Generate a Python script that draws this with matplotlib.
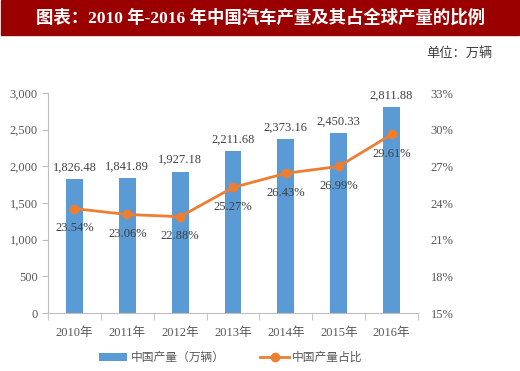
import matplotlib
matplotlib.use('Agg')
import matplotlib.pyplot as plt
import numpy as np
from matplotlib.patches import Rectangle

years = ['2010年', '2011年', '2012年', '2013年', '2014年', '2015年', '2016年']
output = [1826.48, 1841.89, 1927.18, 2211.68, 2373.16, 2450.33, 2811.88]
share = [23.54, 23.06, 22.88, 25.27, 26.43, 26.99, 29.61]

plt.rcParams['font.family'] = ['Liberation Serif', 'Noto Sans CJK SC']

fig = plt.figure(figsize=(5.2, 3.71), dpi=100)

# red title banner
fig.patches.append(Rectangle((0.002, 1 - 35 / 371), 0.996, 35 / 371,
                             transform=fig.transFigure, color='#9B0000', zorder=0))
fig.text(0.5, 1 - 18 / 371, '图表：2010 年-2016 年中国汽车产量及其占全球产量的比例',
         ha='center', va='center', color='white', fontsize=12.5, fontweight='bold')
fig.text(0.948, 1 - 53 / 371, '单位：万辆', ha='right', va='center',
         fontsize=9.5, color='#404040')

ax = fig.add_axes([48 / 520, 58 / 371, 370 / 520, 220 / 371])
x = np.arange(len(years))
bars = ax.bar(x, output, width=0.32, color='#5B9BD5', label='中国产量（万辆）', zorder=2)
ax.set_xlim(-0.5, 6.5)
ax.set_ylim(0, 3000)
ax.set_yticks(np.arange(0, 3001, 500))
ax.yaxis.set_major_formatter(lambda v, p: f'{v:,.0f}')
ax.set_xticks(x)
ax.set_xticklabels(years)
ax.set_xticks(np.arange(-0.5, 7, 1), minor=True)
ax.tick_params(axis='x', which='major', length=0, pad=10, labelsize=9, labelcolor='#595959')
ax.tick_params(axis='x', which='minor', length=5, color='#BFBFBF')
ax.tick_params(axis='y', length=4, color='#BFBFBF', labelsize=9, labelcolor='#595959')
for s in ['top', 'right']:
    ax.spines[s].set_visible(False)
for s in ['left', 'bottom']:
    ax.spines[s].set_color('#BFBFBF')

for xi, v in zip(x, output):
    ax.annotate(f'{v:,.2f}', (xi, v), xytext=(0, 4), textcoords='offset points',
                ha='center', va='bottom', fontsize=9, color='#404040')

ax2 = ax.twinx()
line, = ax2.plot(x, share, color='#ED7D31', lw=2, marker='o', ms=6, label='中国产量占比', zorder=3)
ax2.set_ylim(15, 33)
ax2.set_yticks(np.arange(15, 34, 3))
ax2.yaxis.set_major_formatter(lambda v, p: f'{v:.0f}%')
ax2.tick_params(axis='y', length=0, pad=9, labelsize=9, labelcolor='#595959')
for s in ['top', 'right', 'left', 'bottom']:
    ax2.spines[s].set_visible(False)

for xi, v in zip(x, share):
    ax2.annotate(f'{v:.2f}%', (xi, v), xytext=(0, -14), textcoords='offset points',
                 ha='center', va='center', fontsize=9, color='#404040')

fig.legend([bars, line], ['中国产量（万辆）', '中国产量占比'], loc='center',
           bbox_to_anchor=(0.444, 1 - 358 / 371), ncol=2, frameon=False,
           fontsize=8.5, labelcolor='#595959', handlelength=2.4, columnspacing=3,
           handletextpad=0.3)

fig.savefig('out.png', dpi=100)
